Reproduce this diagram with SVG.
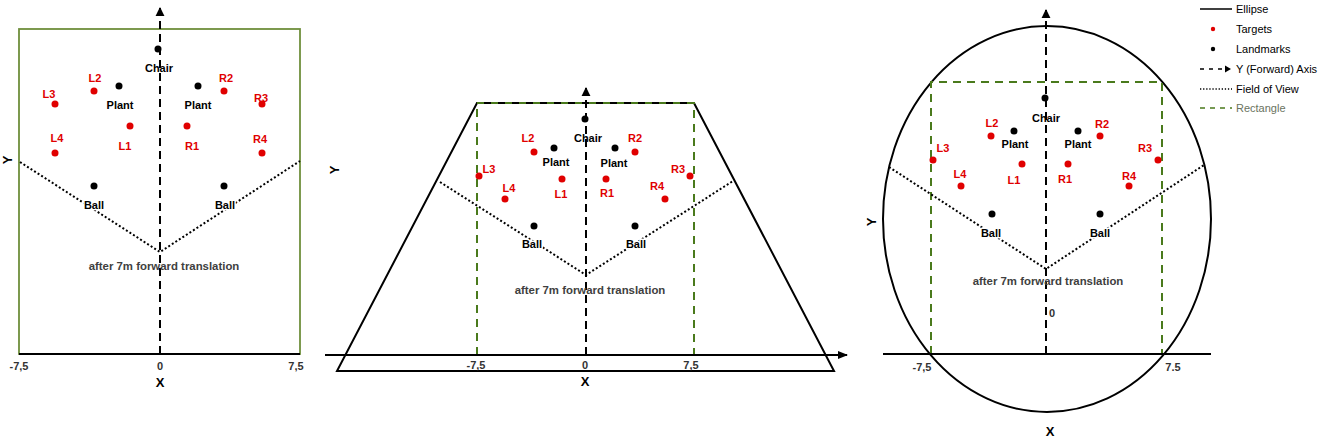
<svg xmlns="http://www.w3.org/2000/svg" width="1325" height="440" viewBox="0 0 1325 440">
<defs>
<marker id="arr" viewBox="0 0 10 10" refX="9" refY="5" markerWidth="5" markerHeight="5" orient="auto" markerUnits="userSpaceOnUse">
<path d="M0,0 L10,5 L0,10 z" fill="#000"/>
</marker>
<marker id="arrX" viewBox="0 0 10 10" refX="9" refY="5" markerWidth="10" markerHeight="10" orient="auto" markerUnits="userSpaceOnUse">
<path d="M0,1 L10,5 L0,9 z" fill="#000"/>
</marker>
<marker id="arrY" viewBox="0 0 10 10" refX="9" refY="5" markerWidth="9" markerHeight="10" orient="auto" markerUnits="userSpaceOnUse">
<path d="M0,0 L10,5 L0,10 z" fill="#000"/>
</marker>
</defs>
<style>
text{font-family:"Liberation Sans",Arial,sans-serif;}
.lbl{font-size:11px;font-weight:bold;text-anchor:middle;}
.red{fill:#e00000;}
.blk{fill:#000;}
.halo{stroke:#fff;stroke-width:3px;paint-order:stroke;stroke-linejoin:round;}
.note{font-size:11.4px;font-weight:bold;fill:#404040;text-anchor:middle;}
.tick{font-size:11px;font-weight:bold;fill:#333;text-anchor:middle;}
.axl{font-size:13px;font-weight:bold;text-anchor:middle;}
.yaxis{stroke:#000;stroke-width:2;stroke-dasharray:8 5;fill:none;}
.fov{stroke:#000;stroke-width:2;stroke-dasharray:2 2.2;fill:none;}
.solid{stroke:#000;stroke-width:2;fill:none;}
.green{stroke:#4a7a1c;stroke-width:2;stroke-dasharray:8 6;fill:none;}
.tgt{fill:#e00000;}
.lm{fill:#000;}
.leg{font-size:11px;fill:#000;}
</style>
<rect width="1325" height="440" fill="#fff"/>

<!-- ===== Panel 1 ===== -->
<g id="panel1">
<g id="p1-connectors">
<rect x="19" y="29" width="281" height="325" fill="none" stroke="#6f8f3c" stroke-width="1.8"/>
<line x1="19" y1="354" x2="300" y2="354" class="solid"/>
<line x1="160" y1="354" x2="160" y2="8" class="yaxis" marker-end="url(#arrY)"/>
<polyline points="20,162 160,252 300,161" class="fov"/>
</g>
<g id="p1-chair"><circle cx="158" cy="49" r="3.5" class="lm"/><text x="159" y="72" class="lbl blk">Chair</text></g>
<g id="p1-plantL"><circle cx="119" cy="86" r="3.5" class="lm"/><text x="120" y="109" class="lbl blk">Plant</text></g>
<g id="p1-plantR"><circle cx="198" cy="86" r="3.5" class="lm"/><text x="198" y="109" class="lbl blk">Plant</text></g>
<g id="p1-L2"><circle cx="94" cy="91" r="3.5" class="tgt"/><text x="95" y="82" class="lbl red">L2</text></g>
<g id="p1-R2"><circle cx="224" cy="91" r="3.5" class="tgt"/><text x="226" y="82" class="lbl red">R2</text></g>
<g id="p1-L3"><circle cx="55" cy="104" r="3.5" class="tgt"/><text x="49" y="98" class="lbl red">L3</text></g>
<g id="p1-R3"><circle cx="262" cy="104" r="3.5" class="tgt"/><text x="261" y="102" class="lbl red">R3</text></g>
<g id="p1-L1"><circle cx="130" cy="126" r="3.5" class="tgt"/><text x="125" y="150" class="lbl red">L1</text></g>
<g id="p1-R1"><circle cx="187" cy="126" r="3.5" class="tgt"/><text x="192" y="150" class="lbl red">R1</text></g>
<g id="p1-L4"><circle cx="55" cy="153" r="3.5" class="tgt"/><text x="57" y="142" class="lbl red">L4</text></g>
<g id="p1-R4"><circle cx="262" cy="153" r="3.5" class="tgt"/><text x="260" y="143" class="lbl red">R4</text></g>
<g id="p1-ballL"><circle cx="94" cy="186" r="3.5" class="lm"/><text x="94" y="209" class="lbl blk halo">Ball</text></g>
<g id="p1-ballR"><circle cx="224" cy="186" r="3.5" class="lm"/><text x="225" y="209" class="lbl blk halo">Ball</text></g>
<text x="164" y="270" class="note">after 7m forward translation</text>
<text x="19" y="370" class="tick">-7,5</text>
<text x="160" y="370" class="tick">0</text>
<text x="296" y="370" class="tick">7,5</text>
<text x="160" y="387" class="axl">X</text>
<text x="0" y="0" class="axl" transform="translate(12,160) rotate(-90)">Y</text>
</g>

<!-- ===== Panel 2 ===== -->
<g id="panel2">
<g id="p2-connectors">
<polygon points="477,103 694,103 834,371 337,371" class="solid"/>
<polyline points="477,355 477,103 694,103 694,355" class="green"/>
<line x1="477" y1="103" x2="694" y2="103" stroke="#000" stroke-width="2" stroke-dasharray="6 8" stroke-dashoffset="7"/>
<line x1="325" y1="355" x2="847" y2="355" class="solid" marker-end="url(#arrX)"/>
<line x1="586" y1="355" x2="586" y2="88" class="yaxis" marker-end="url(#arrY)"/>
<polyline points="440,182 586,275 733,181" class="fov"/>
</g>
<g id="p2-chair"><circle cx="585" cy="119" r="3.5" class="lm"/><text x="588" y="142" class="lbl blk">Chair</text></g>
<g id="p2-plantL"><circle cx="554" cy="148" r="3.5" class="lm"/><text x="556" y="166" class="lbl blk">Plant</text></g>
<g id="p2-plantR"><circle cx="615" cy="148" r="3.5" class="lm"/><text x="614" y="167" class="lbl blk">Plant</text></g>
<g id="p2-L2"><circle cx="534" cy="152" r="3.5" class="tgt"/><text x="528" y="142" class="lbl red">L2</text></g>
<g id="p2-R2"><circle cx="635" cy="152" r="3.5" class="tgt"/><text x="635" y="142" class="lbl red">R2</text></g>
<g id="p2-L3"><circle cx="479" cy="176" r="3.5" class="tgt"/><text x="489" y="173" class="lbl red">L3</text></g>
<g id="p2-R3"><circle cx="690" cy="176" r="3.5" class="tgt"/><text x="678" y="173" class="lbl red">R3</text></g>
<g id="p2-L1"><circle cx="562" cy="179" r="3.5" class="tgt"/><text x="561" y="198" class="lbl red">L1</text></g>
<g id="p2-R1"><circle cx="606" cy="179" r="3.5" class="tgt"/><text x="607" y="197" class="lbl red">R1</text></g>
<g id="p2-L4"><circle cx="505" cy="199" r="3.5" class="tgt"/><text x="509" y="192" class="lbl red">L4</text></g>
<g id="p2-R4"><circle cx="665" cy="199" r="3.5" class="tgt"/><text x="657" y="190" class="lbl red">R4</text></g>
<g id="p2-ballL"><circle cx="534" cy="226" r="3.5" class="lm"/><text x="532" y="248" class="lbl blk halo">Ball</text></g>
<g id="p2-ballR"><circle cx="635" cy="226" r="3.5" class="lm"/><text x="636" y="248" class="lbl blk halo">Ball</text></g>
<text x="590" y="294" class="note">after 7m forward translation</text>
<text x="476" y="369" class="tick">-7,5</text>
<text x="585" y="369" class="tick">0</text>
<text x="691" y="369" class="tick">7,5</text>
<text x="585" y="386" class="axl">X</text>
<text x="0" y="0" class="axl" transform="translate(339,170) rotate(-90)">Y</text>
</g>

<!-- ===== Panel 3 ===== -->
<g id="panel3">
<g id="p3-connectors">
<ellipse cx="1047" cy="219" rx="164" ry="193" class="solid"/>
<polyline points="931,354 931,82 1162,82 1162,354" class="green"/>
<line x1="883" y1="354" x2="1211" y2="354" class="solid"/>
<line x1="1046" y1="354" x2="1046" y2="10" class="yaxis" marker-end="url(#arrY)"/>
<polyline points="889,167 1046,269 1204,165" class="fov"/>
</g>
<g id="p3-chair"><circle cx="1045" cy="98" r="3.5" class="lm"/><text x="1046" y="122" class="lbl blk">Chair</text></g>
<g id="p3-plantL"><circle cx="1014" cy="131" r="3.5" class="lm"/><text x="1015" y="148" class="lbl blk">Plant</text></g>
<g id="p3-plantR"><circle cx="1078" cy="131" r="3.5" class="lm"/><text x="1078" y="148" class="lbl blk">Plant</text></g>
<g id="p3-L2"><circle cx="991" cy="136" r="3.5" class="tgt"/><text x="992" y="127" class="lbl red">L2</text></g>
<g id="p3-R2"><circle cx="1100" cy="136" r="3.5" class="tgt"/><text x="1102" y="128" class="lbl red">R2</text></g>
<g id="p3-L3"><circle cx="933" cy="160" r="3.5" class="tgt"/><text x="943" y="152" class="lbl red">L3</text></g>
<g id="p3-R3"><circle cx="1158" cy="160" r="3.5" class="tgt"/><text x="1145" y="152" class="lbl red">R3</text></g>
<g id="p3-L1"><circle cx="1022" cy="164" r="3.5" class="tgt"/><text x="1014" y="184" class="lbl red">L1</text></g>
<g id="p3-R1"><circle cx="1068" cy="164" r="3.5" class="tgt"/><text x="1065" y="183" class="lbl red">R1</text></g>
<g id="p3-L4"><circle cx="961" cy="186" r="3.5" class="tgt"/><text x="960" y="178" class="lbl red">L4</text></g>
<g id="p3-R4"><circle cx="1129" cy="186" r="3.5" class="tgt"/><text x="1129" y="180" class="lbl red">R4</text></g>
<g id="p3-ballL"><circle cx="992" cy="214" r="3.5" class="lm"/><text x="991" y="237" class="lbl blk halo">Ball</text></g>
<g id="p3-ballR"><circle cx="1100" cy="214" r="3.5" class="lm"/><text x="1100" y="237" class="lbl blk halo">Ball</text></g>
<text x="1048" y="285" class="note">after 7m forward translation</text>
<text x="1049" y="317" class="tick" style="text-anchor:start">0</text>
<text x="922" y="371" class="tick">-7,5</text>
<text x="1173" y="371" class="tick">7.5</text>
<text x="1050" y="436" class="axl">X</text>
<text x="0" y="0" class="axl" transform="translate(876,222) rotate(-90)">Y</text>
</g>

<!-- ===== Legend ===== -->
<g id="legend">
<line x1="1200" y1="9" x2="1232" y2="9" stroke="#000" stroke-width="1.5"/>
<text x="1236" y="13" class="leg">Ellipse</text>
<circle cx="1213" cy="29" r="2.2" fill="#e00000"/>
<text x="1236" y="33" class="leg">Targets</text>
<circle cx="1213" cy="49" r="2.2" fill="#000"/>
<text x="1236" y="53" class="leg">Landmarks</text>
<line x1="1200" y1="69" x2="1226" y2="69" stroke="#000" stroke-width="1.5" stroke-dasharray="4 5"/>
<path d="M1225,65.5 L1231,69 L1225,72.5 z" fill="#000"/>
<text x="1236" y="73" class="leg">Y (Forward) Axis</text>
<line x1="1200" y1="89" x2="1232" y2="89" stroke="#000" stroke-width="1.3" stroke-dasharray="1.3 1.8"/>
<text x="1236" y="93" class="leg">Field of View</text>
<line x1="1200" y1="108" x2="1232" y2="108" stroke="#4a7a1c" stroke-width="1.5" stroke-dasharray="5 5"/>
<text x="1236" y="112" class="leg" style="fill:#6a7360">Rectangle</text>
</g>
</svg>
